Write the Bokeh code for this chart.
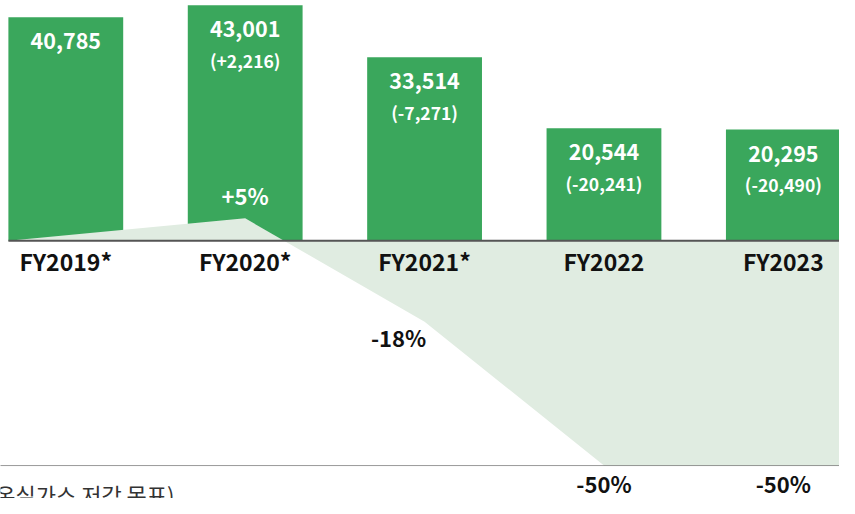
from bokeh.plotting import figure
from bokeh.models import ColumnDataSource, Range1d, Span, Label
from bokeh.core.properties import value
from bokeh.embed import file_html
from bokeh.resources import INLINE

# ---- data ----
categories = ["FY2019*", "FY2020*", "FY2021*", "FY2022", "FY2023"]
emissions = [40785, 43001, 33514, 20544, 20295]
change_labels = ["", "(+2,216)", "(-7,271)", "(-20,241)", "(-20,490)"]
pct_change = [0, 5, -18, -50, -50]
pct_labels = ["", "+5%", "-18%", "-50%", "-50%"]
note_text = "(온실가스 저감 목표)"

FONT = value("Noto Sans CJK KR")
GREEN = "#3aa75c"
AREA = "#e0ece1"

W, H = 839, 498
BAR_W = 0.64

p = figure(width=W, height=H, output_backend="svg", toolbar_location=None,
           x_range=Range1d(-0.364, 4.313), y_range=Range1d(-47040, 43855),
           min_border=0, min_border_left=0, min_border_right=0,
           min_border_top=0, min_border_bottom=0)
p.extra_y_ranges = {"pct": Range1d(-57.33, 53.45)}
p.xaxis.visible = False
p.yaxis.visible = False
p.grid.visible = False
p.outline_line_color = None
p.background_fill_color = "white"
p.border_fill_color = "white"

idx = list(range(len(categories)))
src = ColumnDataSource(dict(x=idx, cat=categories, v=emissions,
                            chg=change_labels))

# bars
p.vbar(x="x", top="v", bottom=0, width=BAR_W, source=src,
       fill_color=GREEN, line_color=None)

# percent-change area (drawn over the bars)
ax = [idx[0] - BAR_W / 2] + idx[1:] + [p.x_range.end]
ay = pct_change + [pct_change[-1]]
p.varea(x=ax, y1=[0] * len(ax), y2=ay, y_range_name="pct",
        fill_color=AREA)

# baseline
p.segment(x0=[idx[0] - BAR_W / 2], y0=[0], x1=[p.x_range.end], y1=[0],
          line_color="#555555", line_width=2)

# dotted target line
p.add_layout(Span(location=pct_change[-1], dimension="width", y_range_name="pct",
                  line_color="#333333", line_width=1, line_dash="1 1"))

# value labels inside bars
p.text(x=idx, y=emissions, text=[f"{e:,}" for e in emissions],
       text_font=FONT, text_font_style="bold", text_font_size="21.5px",
       text_color="white", text_align="center", text_baseline="middle",
       y_offset=24)
p.text(x=idx, y=emissions, text=change_labels,
       text_font=FONT, text_font_style="bold", text_font_size="17.5px",
       text_color="white", text_align="center", text_baseline="middle",
       y_offset=55)

# category labels
p.text(x=idx, y=[0] * len(idx), text=categories,
       text_font=FONT, text_font_style="bold", text_font_size="23px",
       text_color="#111111", text_align="center", text_baseline="middle",
       y_offset=20)

# percent labels
p.text(x=[idx[1]], y=[pct_change[1]], text=[pct_labels[1]], y_range_name="pct",
       text_font=FONT, text_font_style="bold", text_font_size="22px",
       text_color="white", text_align="center", text_baseline="middle",
       y_offset=-23)
p.text(x=[idx[2]], y=[pct_change[2]], text=[pct_labels[2]], y_range_name="pct",
       text_font=FONT, text_font_style="bold", text_font_size="22px",
       text_color="#111111", text_align="center", text_baseline="middle",
       x_offset=-26, y_offset=15)
p.text(x=idx[3:], y=pct_change[3:], text=pct_labels[3:], y_range_name="pct",
       text_font=FONT, text_font_style="bold", text_font_size="22px",
       text_color="#111111", text_align="center", text_baseline="middle",
       y_offset=17)

# cut-off note at bottom left
p.add_layout(Label(x=174, y=21, x_units="screen", y_units="screen",
                   text=note_text, text_font="Noto Sans CJK KR",
                   text_font_size="22px", text_color="#333333",
                   text_align="right", text_baseline="top"))

open("out.html", "w").write(file_html(p, INLINE))
